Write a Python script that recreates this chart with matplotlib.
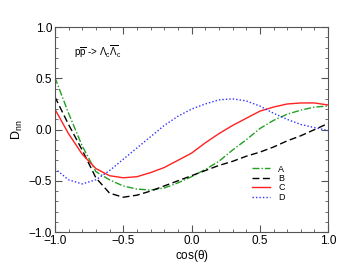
import matplotlib
matplotlib.use("Agg")
import matplotlib.pyplot as plt
from matplotlib.ticker import MultipleLocator

plt.rcParams["font.family"] = ["Liberation Sans", "DejaVu Sans"]
plt.rcParams["mathtext.fontset"] = "custom"
plt.rcParams["mathtext.rm"] = "Liberation Sans"
plt.rcParams["mathtext.it"] = "Liberation Sans"

# cos(theta) grid
x = [-1.0, -0.9, -0.8, -0.7, -0.6, -0.5, -0.4, -0.3, -0.2, -0.1, 0.0,
     0.1, 0.2, 0.3, 0.4, 0.5, 0.6, 0.7, 0.8, 0.9, 1.0]

a_vals = [0.51, 0.16, -0.16, -0.41, -0.49, -0.55, -0.58, -0.59, -0.57, -0.52, -0.46,
          -0.39, -0.31, -0.20, -0.10, 0.01, 0.09, 0.15, 0.19, 0.22, 0.23]
b_vals = [0.32, 0.05, -0.20, -0.47, -0.62, -0.66, -0.64, -0.60, -0.55, -0.50, -0.45,
          -0.40, -0.35, -0.31, -0.26, -0.22, -0.17, -0.11, -0.06, 0.00, 0.06]
c_vals = [0.20, -0.04, -0.24, -0.38, -0.45, -0.47, -0.46, -0.42, -0.37, -0.30, -0.23,
          -0.13, -0.04, 0.04, 0.11, 0.18, 0.22, 0.25, 0.26, 0.26, 0.24]
d_vals = [-0.38, -0.49, -0.53, -0.49, -0.40, -0.29, -0.18, -0.07, 0.04, 0.13, 0.20,
          0.25, 0.29, 0.30, 0.28, 0.23, 0.16, 0.10, 0.05, 0.02, -0.01]

fig = plt.figure(figsize=(3.54, 2.74), dpi=100)
ax = fig.add_axes([0.155, 0.153, 0.772, 0.748])

ax.plot(x, a_vals, color="#22a022", lw=1.0, ls=(0, (5, 1.5, 1, 1.5)), label="A")
ax.plot(x, b_vals, color="black", lw=1.0, ls=(0, (5, 2.5)), label="B")
ax.plot(x, c_vals, color="#ff2020", lw=1.0, ls="-", label="C")
ax.plot(x, d_vals, color="#3030ff", lw=1.0, ls=(0, (1, 1.5)), label="D")

ax.set_xlim(-1, 1)
ax.set_ylim(-1, 1)
ax.xaxis.set_major_locator(MultipleLocator(0.5))
ax.xaxis.set_minor_locator(MultipleLocator(0.1))
ax.yaxis.set_major_locator(MultipleLocator(0.5))
ax.yaxis.set_minor_locator(MultipleLocator(0.1))
ax.tick_params(which="both", direction="in", top=True, right=True,
               labelsize=8.5, color="#555555", pad=2)
ax.tick_params(which="major", length=5)
ax.tick_params(which="minor", length=2.5)
for s in ax.spines.values():
    s.set_color("#555555")

ax.set_xlabel(r"cos($\theta$)", fontsize=8.5, labelpad=1)
ax.set_ylabel(r"D$_{\rm nn}$", fontsize=9, labelpad=3)

ax.text(-0.86, 0.76,
        r"p$\overline{\rm p}$ -> $\Lambda_{\rm c}\overline{\Lambda}_{\rm c}$",
        fontsize=7, va="center")

leg = ax.legend(loc="lower left", bbox_to_anchor=(0.705, 0.125), frameon=False,
                fontsize=6.5, handlelength=2.0, handletextpad=0.9,
                labelspacing=0.05, borderpad=0)

fig.savefig("out.png", dpi=100)
